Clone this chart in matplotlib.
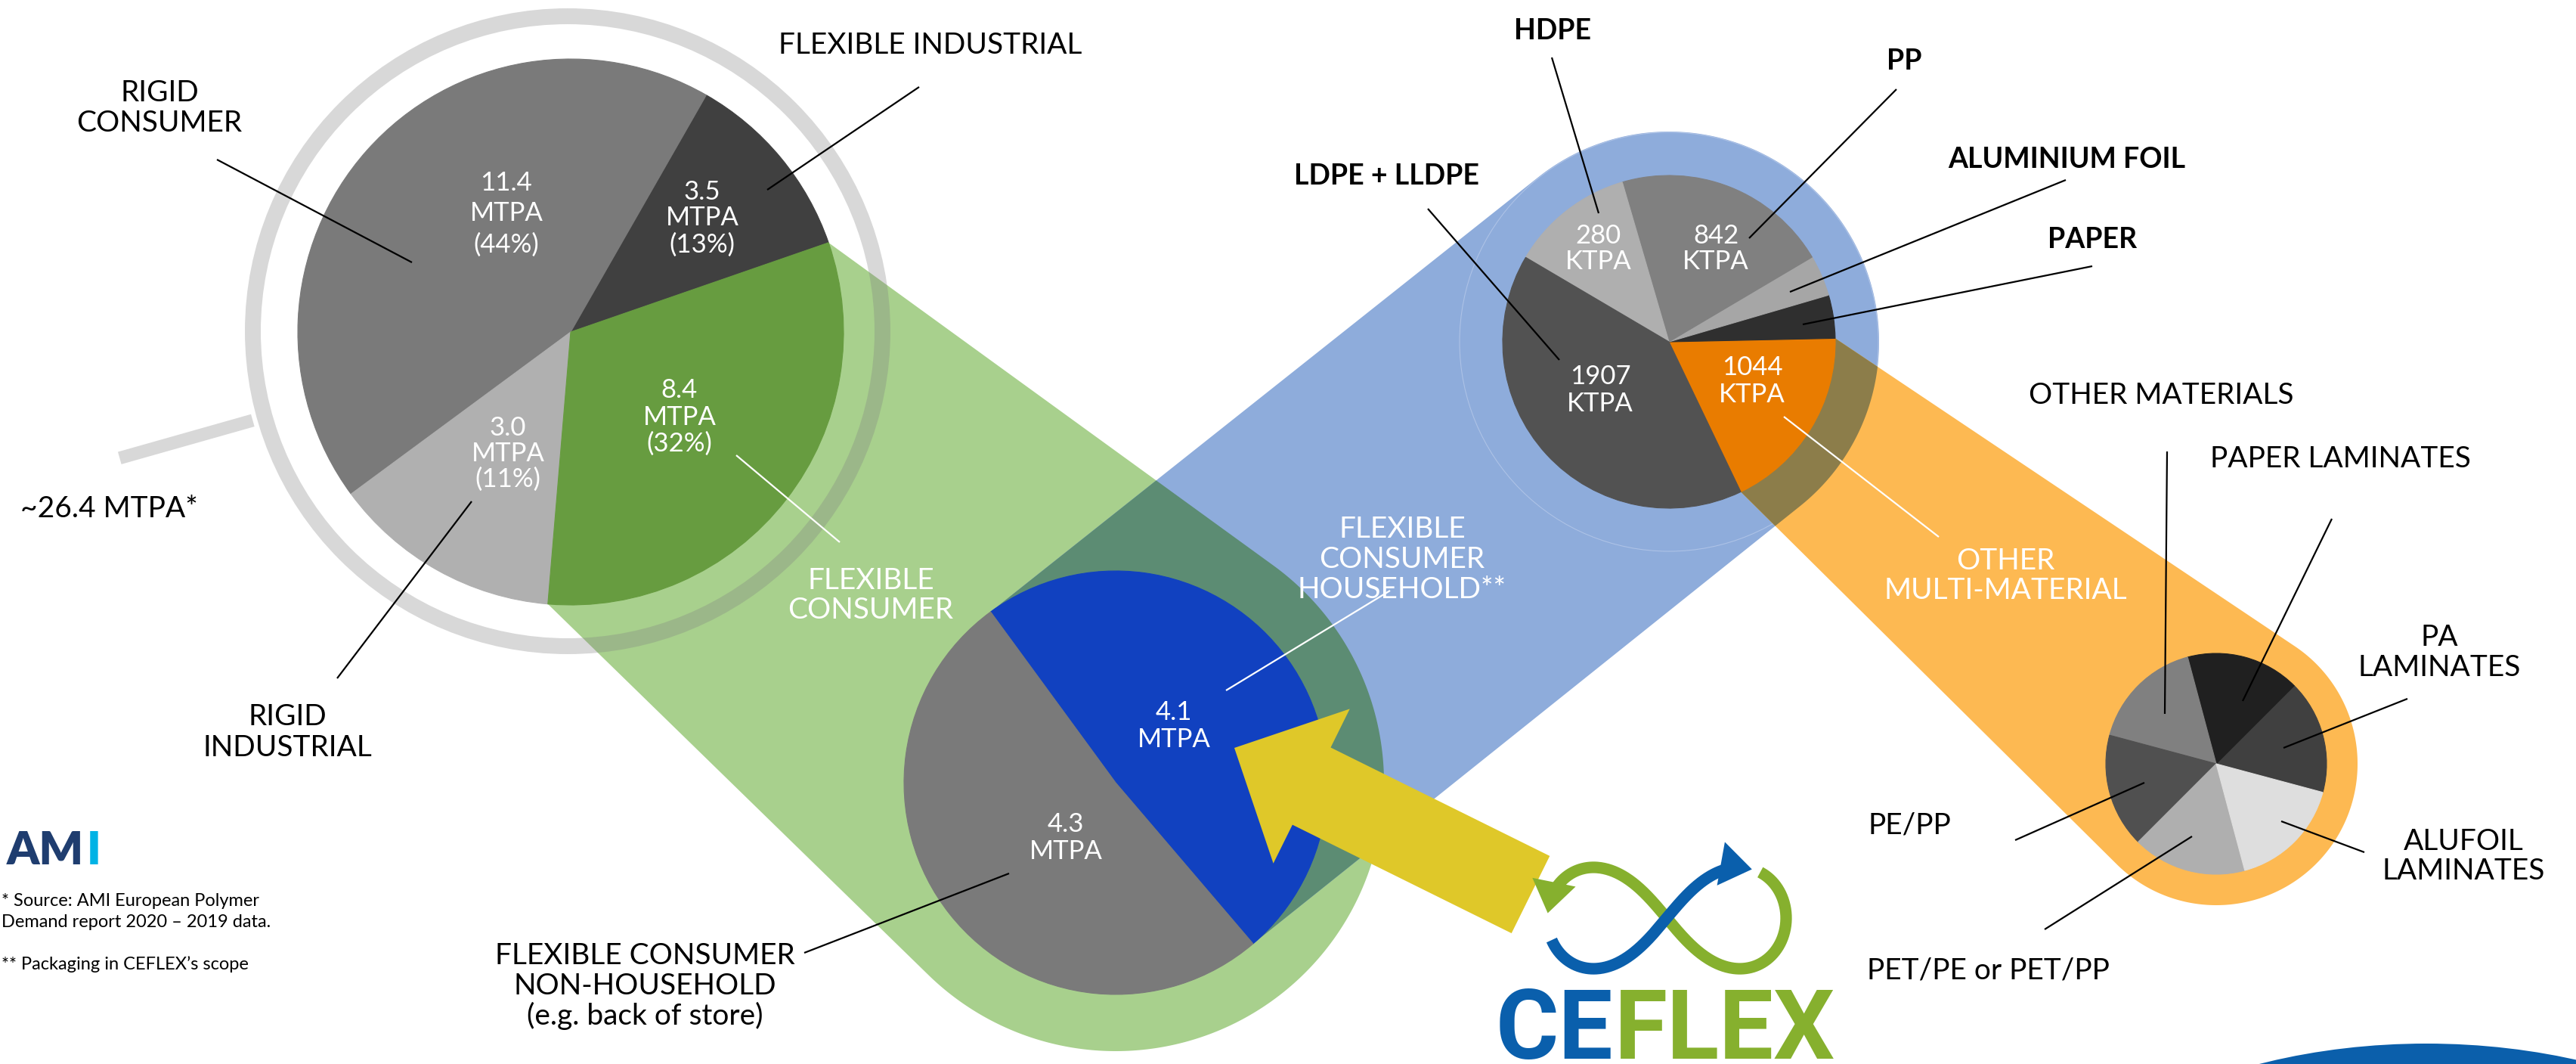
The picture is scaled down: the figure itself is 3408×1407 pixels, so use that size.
import numpy as np
import matplotlib
matplotlib.use("Agg")
import matplotlib.pyplot as plt
from matplotlib.patches import Polygon, Circle, FancyArrow, Ellipse

# Market split (left pie), counter-clockwise from flexible industrial
market_names = ["FLEXIBLE INDUSTRIAL", "RIGID\nCONSUMER", "RIGID\nINDUSTRIAL", "FLEXIBLE\nCONSUMER"]
market_mtpa = [3.5, 11.4, 3.0, 8.4]
market_pct = [13, 44, 11, 32]
market_deg = [41.1, 156.2, 48.8, 113.9]   # slice sizes as drawn in the original
market_total = 26.4

# Flexible consumer split (middle pie)
flex_names = ["FLEXIBLE\nCONSUMER\nHOUSEHOLD**", "FLEXIBLE CONSUMER\nNON-HOUSEHOLD\n(e.g. back of store)"]
flex_mtpa = [4.1, 4.3]

# Household materials (top right pie), counter-clockwise from other multi-material
material_names = ["OTHER\nMULTI-MATERIAL", "PAPER", "ALUMINIUM FOIL", "PP", "HDPE", "LDPE + LLDPE"]
material_ktpa = [1044, None, None, 842, 280, 1907]
material_deg = [65.6, 15.1, 14.3, 75.7, 43.2, 146.1]

# Multi-material structures (bottom right pie), counter-clockwise from PA laminates
multi_names = ["PA\nLAMINATES", "PAPER LAMINATES", "OTHER MATERIALS", "PE/PP",
               "PET/PE or PET/PP", "ALUFOIL\nLAMINATES"]
multi_share = [1, 1, 1, 1, 1, 1]

footnotes = ["* Source: AMI European Polymer", "Demand report 2020 \u2013 2019 data.",
             "", "** Packaging in CEFLEX\u2019s scope"]

# colours
market_colors = ["#404040", "#7a7a7a", "#b0b0b0", "#679c40"]
flex_colors = ["#1141c0", "#7a7a7a"]
material_colors = ["#e97c00", "#2f2f2f", "#a6a6a6", "#808080", "#afafaf", "#525252"]
multi_colors = ["#404040", "#202020", "#808080", "#505050", "#afafaf", "#dedede"]
GREEN_BAND, BLUE_BAND, ORANGE_BAND = "#a8d08d", "#8eacdb", "#fdb952"
TEAL, OLIVE = "#5c8c73", "#8c7d4a"

W, H = 3408, 1407
plt.rcParams["font.family"] = ["Lato", "DejaVu Sans"]

fig = plt.figure(figsize=(W / 100, H / 100), dpi=100)
ax = fig.add_axes([0, 0, 1, 1])

# pie layout in pixel coordinates (y grows downward)
left_c, left_r, left_start = (755, 439), 361, 19.1
mid_c, mid_r, mid_start = (1476, 1035), 280, -49.5
top_c, top_r, top_start = (2208, 452), 220, -64.4
bot_c, bot_r, bot_start = (2932, 1010), 146, -15


def draw_pie(sizes, colors, center, radius, start):
    # y axis is flipped, so go clockwise in data space to look counter-clockwise
    wedges, _ = ax.pie(sizes, colors=colors, center=center, radius=radius,
                       startangle=-start, counterclock=False,
                       wedgeprops=dict(linewidth=0.8, zorder=7))
    for w in wedges:
        w.set_edgecolor(w.get_facecolor())
    return wedges


def rim(center, radius, ang):
    a = np.radians(ang)
    return (center[0] + radius * np.cos(a), center[1] - radius * np.sin(a))


def slice_edges(sizes, start, i):
    sizes = np.asarray(sizes, float)
    deg = sizes / sizes.sum() * 360
    a0 = start + deg[:i].sum()
    return a0, a0 + deg[i]


def convex_hull(pts):
    pts = sorted(map(tuple, pts))

    def cross(o, a, b):
        return (a[0] - o[0]) * (b[1] - o[1]) - (a[1] - o[1]) * (b[0] - o[0])
    lower, upper = [], []
    for p in pts:
        while len(lower) >= 2 and cross(lower[-2], lower[-1], p) <= 0:
            lower.pop()
        lower.append(p)
    for p in reversed(pts):
        while len(upper) >= 2 and cross(upper[-2], upper[-1], p) <= 0:
            upper.pop()
        upper.append(p)
    return np.array(lower[:-1] + upper[:-1])


def band(p1, p2, center, radius):
    t = np.linspace(0, 2 * np.pi, 500, endpoint=False)
    circ = np.c_[center[0] + radius * np.cos(t), center[1] + radius * np.sin(t)]
    return convex_hull(np.vstack([[p1, p2], circ]))


def label(x, y, text, dy=40, size=28, color="black", weight="normal", ha="center"):
    for k, line in enumerate(text.split("\n")):
        ax.text(x, y + k * dy + 0.5 * size, line, ha=ha, va="baseline", fontsize=size,
                color=color, fontweight=weight, zorder=10)


def leader(p, q, color="black"):
    ax.plot([p[0], q[0]], [p[1], q[1]], color=color, lw=1.6, zorder=9,
            solid_capstyle="butt")


# ---- connecting bands ----
a0, a1 = slice_edges(market_deg, left_start, 3)
green_pts = band(rim(left_c, left_r, a0), rim(left_c, left_r, a1), mid_c, 355)
green = Polygon(green_pts, fc=GREEN_BAND, lw=0, zorder=1)
ax.add_patch(green)

a0, a1 = slice_edges(flex_mtpa, mid_start, 0)
blue_pts = band(rim(mid_c, mid_r, a0), rim(mid_c, mid_r, a1), top_c, 278)
blue = Polygon(blue_pts, fc=BLUE_BAND, lw=0, zorder=2)
ax.add_patch(blue)
teal = Polygon(blue_pts, fc=TEAL, lw=0, zorder=3)
ax.add_patch(teal)
teal.set_clip_path(green)
ax.add_patch(Circle(top_c, 277, fill=False, ec="#adc2e6", lw=0.8, zorder=3))

a0, a1 = slice_edges(material_deg, top_start, 0)
orange_pts = band(rim(top_c, top_r, a0), rim(top_c, top_r, a1), bot_c, 187)
ax.add_patch(Polygon(orange_pts, fc=ORANGE_BAND, lw=0, zorder=4))
olive = Polygon(orange_pts, fc=OLIVE, lw=0, zorder=5)
ax.add_patch(olive)
olive.set_clip_path(blue)

# magnifier ring around the market pie
ring_c = (751, 438)
ax.add_patch(Circle(ring_c, 416.5, fill=False, ec="#808080", alpha=0.3, lw=21 * 0.72, zorder=6))
h0, h1 = rim(ring_c, 433, 195.8), rim(ring_c, 616, 195.8)
ax.plot([h0[0], h1[0]], [h0[1], h1[1]], color="#808080", alpha=0.3, lw=17 * 0.72,
        solid_capstyle="butt", zorder=6)

# ---- pies ----
draw_pie(market_deg, market_colors, left_c, left_r, left_start)
draw_pie(flex_mtpa, flex_colors, mid_c, mid_r, mid_start)
draw_pie(material_deg, material_colors, top_c, top_r, top_start)
draw_pie(multi_share, multi_colors, bot_c, bot_r, bot_start)

# pie() resets the limits, so put the pixel frame back
ax.set_xlim(0, W)
ax.set_ylim(H, 0)
ax.set_aspect("equal")

# ---- labels ----
market_name_pos = [(1231, 57, 40), (211, 120, 40), (380, 945, 41), (1152, 765, 39)]
market_name_col = ["black", "black", "black", "white"]
market_value_pos = [(929, 251, 35), (670, 239, 41), (672, 563, 34), (899, 514, 35)]
market_leaders = [((1216, 115), (1015, 251)), ((287, 211), (545, 347)),
                  ((446, 897), (624, 663)), ((974, 602), (1111, 717))]
for i, name in enumerate(market_names):
    x, y, dy = market_name_pos[i]
    label(x, y, name, dy, color=market_name_col[i])
    x, y, dy = market_value_pos[i]
    label(x, y, f"{market_mtpa[i]}\nMTPA\n({market_pct[i]}%)", dy, size=25, color="white")
    leader(*market_leaders[i], color=market_name_col[i])
label(27, 670, f"~{market_total} MTPA*", size=28, ha="left")

flex_name_pos = [(1855, 697, 40), (853, 1261, 40)]
flex_name_col = ["white", "black"]
flex_value_pos = [(1553, 939, 36), (1410, 1087, 37)]
flex_leaders = [((1839, 781), (1622, 913)), ((1064, 1260), (1335, 1155))]
for i, name in enumerate(flex_names):
    x, y, dy = flex_name_pos[i]
    label(x, y, name, dy, color=flex_name_col[i])
    x, y, dy = flex_value_pos[i]
    label(x, y, f"{flex_mtpa[i]}\nMTPA", dy, size=25, color="white")
    leader(*flex_leaders[i], color=flex_name_col[i])

material_name_pos = [(2653, 739, 39), (2768, 314, 0), (2734, 209, 0), (2519, 78, 0),
                     (2054, 38, 0), (1834, 231, 0)]
material_value_pos = [(2318, 484, 35), None, None, (2270, 309, 35), (2115, 309, 35), (2117, 496, 35)]
material_leaders = [((2360, 551), (2565, 710)), ((2768, 352), (2385, 429)),
                    ((2733, 238), (2368, 386)), ((2509, 118), (2314, 315)),
                    ((2053, 76), (2115, 282)), ((1889, 276), (2063, 476))]
for i, name in enumerate(material_names):
    x, y, dy = material_name_pos[i]
    if i == 0:
        label(x, y, name, dy, color="white")
        leader(*material_leaders[i], color="white")
    else:
        label(x, y, name, size=27, weight="bold")
        leader(*material_leaders[i])
    if material_ktpa[i] is not None:
        x, y, dy = material_value_pos[i]
        label(x, y, f"{material_ktpa[i]}\nKTPA", dy, size=25, color="white")

multi_name_pos = [(3227, 840, 40), (3096, 604, 0), (2859, 520, 0), (2526, 1089, 0),
                  (2630, 1281, 0), (3259, 1110, 39)]
multi_leaders = [((3185, 924), (3021, 989)), ((3085, 686), (2967, 927)),
                 ((2867, 597), (2864, 944)), ((2666, 1111), (2837, 1035)),
                 ((2705, 1229), (2900, 1106)), ((3018, 1086), (3128, 1127))]
for i, name in enumerate(multi_names):
    x, y, dy = multi_name_pos[i]
    label(x, y, name, dy)
    leader(*multi_leaders[i])

# ---- footnotes and logos ----
for k, line in enumerate(footnotes):
    ax.text(2, 1198 + k * 28, line, fontsize=17, va="baseline", zorder=10)

# AMI logo: "AM" in navy, "I" in cyan placed right after it
am = ax.text(9, 1143, "AM", fontsize=44, fontweight="heavy", color="#1f3d6f",
             va="baseline", zorder=10)
renderer = fig.canvas.get_renderer()
am_right = ax.transData.inverted().transform(am.get_window_extent(renderer))[:, 0].max()
ax.text(am_right + 4, 1143, "I", fontsize=44, fontweight="heavy", color="#00b3e5",
        va="baseline", zorder=10)

# yellow arrow pointing at the household slice
ax.add_patch(FancyArrow(2025, 1183, 1633 - 2025, 989 - 1183, width=114, head_width=228,
                        head_length=114, length_includes_head=True, fc="#dfc829",
                        lw=0, zorder=9))

# CEFLEX infinity mark
lx, ly, la, lsy = 2205, 1214, 158, 1.2


def lemniscate(t):
    d = 1 + np.sin(t) ** 2
    return lx + la * np.cos(t) / d, ly - lsy * la * np.sin(t) * np.cos(t) / d


tg = np.linspace(-np.pi + 0.12, 0.42, 300)
gx, gy = lemniscate(tg)
ax.plot(gx, gy, color="#86b02e", lw=11, solid_capstyle="butt", zorder=10)
tb = np.linspace(0.58, np.pi - 0.16, 300)
bx, by = lemniscate(tb)
ax.plot(bx, by, color="#0a5fac", lw=11, solid_capstyle="butt", zorder=11)
for tt, col in [(tb, "#0a5fac"), (tg, "#86b02e")]:
    x0, y0 = lemniscate(tt[0] + 0.02)
    x1, y1 = lemniscate(tt[0] - 0.10)
    ax.annotate("", xy=(x1, y1), xytext=(x0, y0), zorder=11,
                arrowprops=dict(arrowstyle="-|>,head_length=1.0,head_width=0.7",
                                color=col, lw=0, mutation_scale=30))

ax.text(2134, 1400, "CE", fontsize=92, fontweight="bold", family="Roboto",
        color="#0a5fac", ha="right", va="baseline", zorder=10)
ax.text(2136, 1400, "FLEX", fontsize=92, fontweight="bold", family="Roboto",
        color="#86b02e", ha="left", va="baseline", zorder=10)
ax.add_patch(Ellipse((3210, 1700), 1100, 640, fc="#0b5fab", lw=0, zorder=10))

ax.set_xlim(0, W)
ax.set_ylim(H, 0)
ax.set_aspect("equal")
ax.axis("off")

plt.savefig("out.png", dpi=100)
